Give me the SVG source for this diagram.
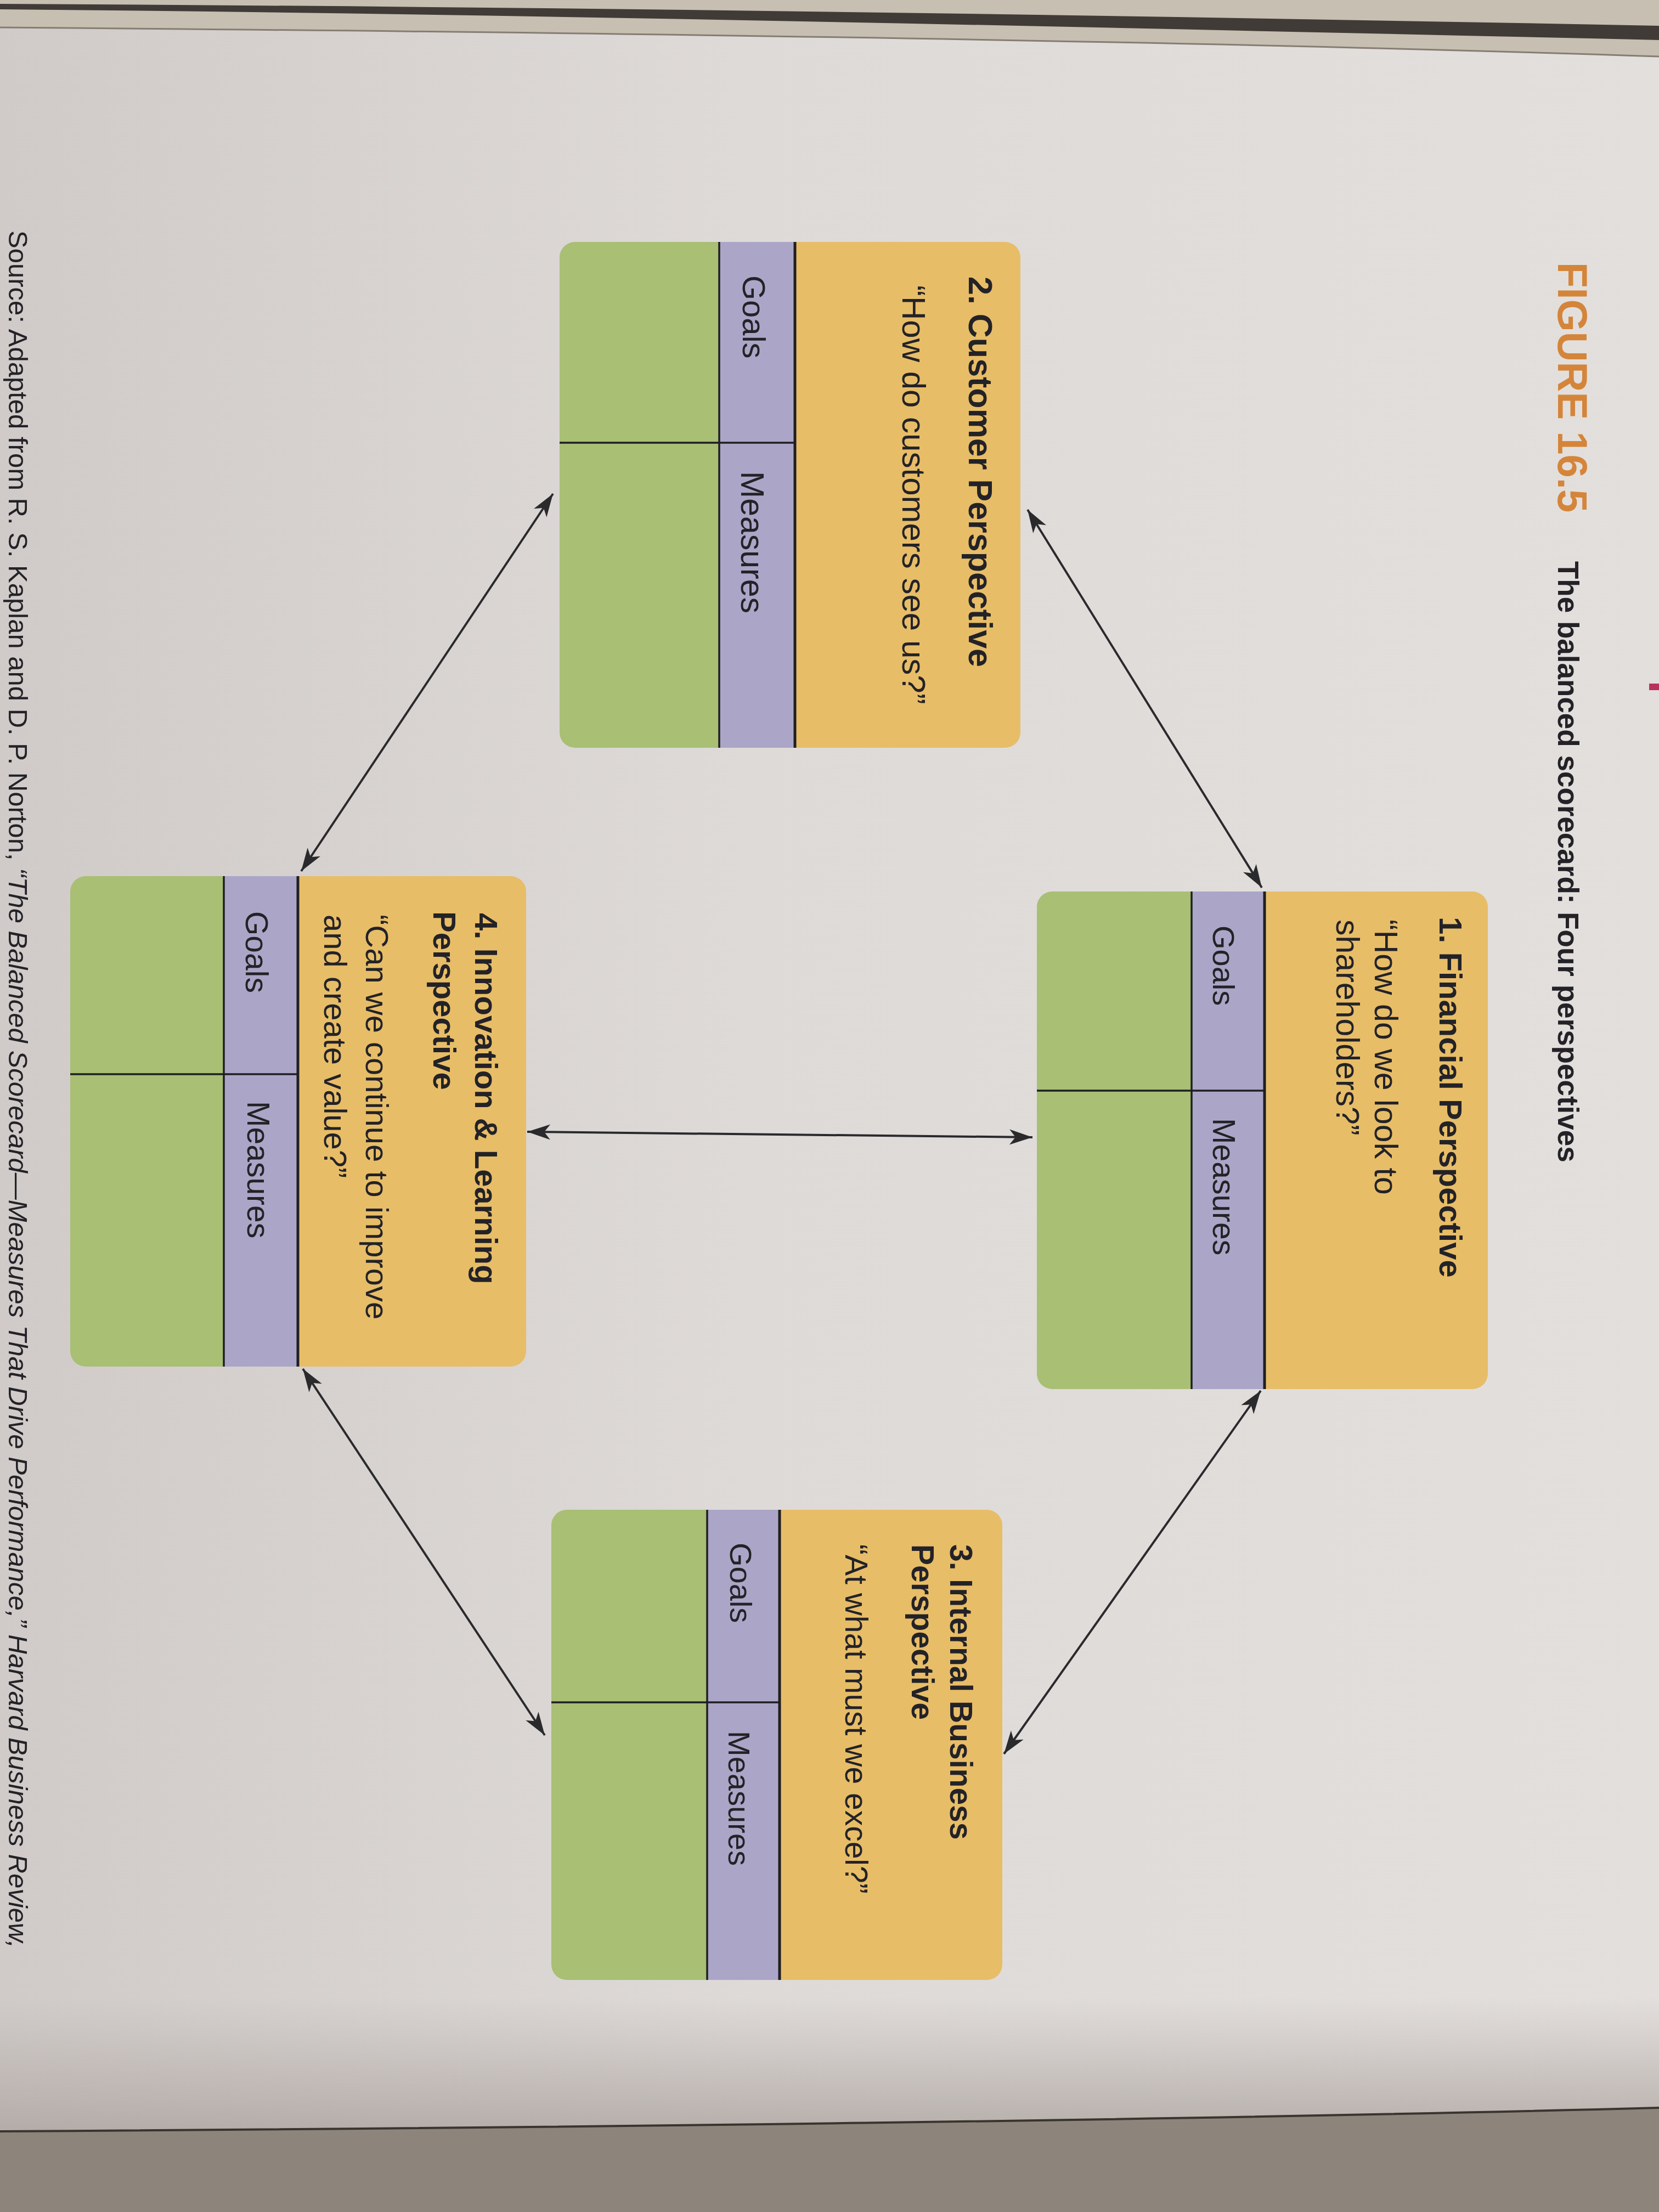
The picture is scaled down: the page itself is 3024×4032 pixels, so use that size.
<svg xmlns="http://www.w3.org/2000/svg" width="3024" height="4032" viewBox="0 0 3024 4032">
  <defs>
    <style>
      .yel{fill:#e7bd68}
      .pur{fill:#aba6c7}
      .grn{fill:#a8bf74}
      .ln{stroke:#1f1e22;stroke-width:5}
      .ln2{stroke:#1f1e22;stroke-width:3.5}
      .t{font-family:"Liberation Sans",Arial,sans-serif;fill:#232227}
      .b{font-weight:bold}
      .conn{stroke:#2a292c;stroke-width:4;fill:none;marker-start:url(#ah);marker-end:url(#ah)}
    </style>
    <linearGradient id="pageG" x1="0" y1="0" x2="1" y2="0">
      <stop offset="0" stop-color="#d0cbc9"/>
      <stop offset="0.45" stop-color="#dedad8"/>
      <stop offset="1" stop-color="#e3dfdd"/>
    </linearGradient>
    <linearGradient id="botShade" x1="0" y1="0" x2="0" y2="1">
      <stop offset="0" stop-color="#b6aeaa" stop-opacity="0"/>
      <stop offset="1" stop-color="#b0a8a3" stop-opacity="0.9"/>
    </linearGradient>
    <marker id="ah" markerUnits="userSpaceOnUse" markerWidth="60" markerHeight="40" viewBox="-50 -20 60 40" refX="0" refY="0" orient="auto-start-reverse" overflow="visible">
      <path d="M0,0 L-42,-14 L-31,0 L-42,14 Z" fill="#2a292c"/>
    </marker>
    <clipPath id="cl1"><rect x="1625" y="312" width="907" height="822" rx="28"/></clipPath>
    <clipPath id="cl2"><rect x="441" y="1164" width="922" height="840" rx="28"/></clipPath>
    <clipPath id="cl3"><rect x="2752" y="1197" width="857" height="822" rx="28"/></clipPath>
    <clipPath id="cl4"><rect x="1597" y="2065" width="894" height="831" rx="28"/></clipPath>
  </defs>

  <!-- page and photo surroundings -->
  <rect x="0" y="0" width="3024" height="4032" fill="url(#pageG)"/>
  <rect x="0" y="3640" width="3024" height="250" fill="url(#botShade)"/>
  <path d="M0,0 L3024,0 L3024,103 C2400,82 1500,62 0,50 Z" fill="#c6bfb2"/>
  <path d="M0,7 C1000,12 2000,27 3024,47 L3024,73 C2000,50 1000,26 0,17 Z" fill="#403b36"/>
  <path d="M0,50 C1500,62 2400,82 3024,103" fill="none" stroke="#857d72" stroke-width="3"/>
  <path d="M0,3885 C1000,3879 2200,3864 3024,3842 L3024,4032 L0,4032 Z" fill="#8d857c"/>
  <path d="M0,3885 C1000,3879 2200,3864 3024,3842" fill="none" stroke="#3a342f" stroke-width="4"/>
  <rect x="3006" y="1246" width="18" height="12" fill="#b8325e"/>

  <g id="page" transform="matrix(0 1 -1 0 3024 0)">
    <!-- heading -->
    <g id="heading">
      <text class="t b" x="478" y="184" font-size="76" style="fill:#d4853a">FIGURE 16.5</text>
      <text class="t b" x="1023" y="184" font-size="53">The balanced scorecard: Four perspectives</text>
    </g>

    <!-- connectors -->
    <g id="connectors">
      <line class="conn" x1="929" y1="1151" x2="1618" y2="724"/>
      <line class="conn" x1="2535" y1="726" x2="3197" y2="1194"/>
      <line class="conn" x1="2063" y1="2063" x2="2073" y2="1142"/>
      <line class="conn" x1="900" y1="2016" x2="1588" y2="2475"/>
      <line class="conn" x1="2495" y1="2472" x2="3163" y2="2031"/>
    </g>

    <!-- 1 Financial -->
    <g id="card-financial">
      <g clip-path="url(#cl1)">
        <rect class="yel" x="1625" y="312" width="907" height="407"/>
        <rect class="pur" x="1625" y="719" width="907" height="133"/>
        <rect class="grn" x="1625" y="852" width="907" height="282"/>
      </g>
      <line class="ln" x1="1625" y1="719" x2="2532" y2="719"/>
      <line class="ln2" x1="1625" y1="852" x2="2532" y2="852"/>
      <line class="ln2" x1="1988" y1="719" x2="1988" y2="1134"/>
      <text class="t b" x="1671" y="400" font-size="58">1. Financial Perspective</text>
      <text class="t" x="1676" y="518" font-size="59">“How do we look to</text>
      <text class="t" x="1676" y="588" font-size="59">shareholders?”</text>
      <text class="t" x="1687" y="813" font-size="56">Goals</text>
      <text class="t" x="2038" y="813" font-size="57">Measures</text>
    </g>

    <!-- 2 Customer -->
    <g id="card-customer">
      <g clip-path="url(#cl2)">
        <rect class="yel" x="441" y="1164" width="922" height="411"/>
        <rect class="pur" x="441" y="1575" width="922" height="138"/>
        <rect class="grn" x="441" y="1713" width="922" height="291"/>
      </g>
      <line class="ln" x1="441" y1="1575" x2="1363" y2="1575"/>
      <line class="ln2" x1="441" y1="1713" x2="1363" y2="1713"/>
      <line class="ln2" x1="807" y1="1575" x2="807" y2="2004"/>
      <text class="t b" x="504" y="1258" font-size="61">2. Customer Perspective</text>
      <text class="t" x="520" y="1379" font-size="60">“How do customers see us?”</text>
      <text class="t" x="502" y="1670" font-size="58">Goals</text>
      <text class="t" x="859" y="1673" font-size="59">Measures</text>
    </g>

    <!-- 3 Internal Business -->
    <g id="card-internal">
      <g clip-path="url(#cl3)">
        <rect class="yel" x="2752" y="1197" width="857" height="406"/>
        <rect class="pur" x="2752" y="1603" width="857" height="132"/>
        <rect class="grn" x="2752" y="1735" width="857" height="284"/>
      </g>
      <line class="ln" x1="2752" y1="1603" x2="3609" y2="1603"/>
      <line class="ln2" x1="2752" y1="1735" x2="3609" y2="1735"/>
      <line class="ln2" x1="3103" y1="1603" x2="3103" y2="2019"/>
      <text class="t b" x="2815" y="1292" font-size="57">3. Internal Business</text>
      <text class="t b" x="2815" y="1362" font-size="57">Perspective</text>
      <text class="t" x="2815" y="1483" font-size="57">“At what must we excel?”</text>
      <text class="t" x="2812" y="1693" font-size="56">Goals</text>
      <text class="t" x="3155" y="1696" font-size="56">Measures</text>
    </g>

    <!-- 4 Innovation & Learning -->
    <g id="card-innovation">
      <g clip-path="url(#cl4)">
        <rect class="yel" x="1597" y="2065" width="894" height="416"/>
        <rect class="pur" x="1597" y="2481" width="894" height="135"/>
        <rect class="grn" x="1597" y="2616" width="894" height="280"/>
      </g>
      <line class="ln" x1="1597" y1="2481" x2="2491" y2="2481"/>
      <line class="ln2" x1="1597" y1="2616" x2="2491" y2="2616"/>
      <line class="ln2" x1="1958" y1="2481" x2="1958" y2="2896"/>
      <text class="t b" x="1664" y="2158" font-size="58">4. Innovation &amp; Learning</text>
      <text class="t b" x="1661" y="2234" font-size="58">Perspective</text>
      <text class="t" x="1667" y="2357" font-size="58">“Can we continue to improve</text>
      <text class="t" x="1667" y="2433" font-size="58">and create value?”</text>
      <text class="t" x="1661" y="2576" font-size="57">Goals</text>
      <text class="t" x="2007" y="2573" font-size="57">Measures</text>
    </g>

    <!-- source line at the page foot (left edge of the photo) -->
    <text class="t" x="420" y="3008" font-size="49">Source: Adapted from R. S. Kaplan and D. P. Norton, <tspan font-style="italic">“The Balanced Scorecard—Measures That Drive Performance,”</tspan> <tspan font-style="italic">Harvard Business Review,</tspan></text>
  </g>
</svg>
